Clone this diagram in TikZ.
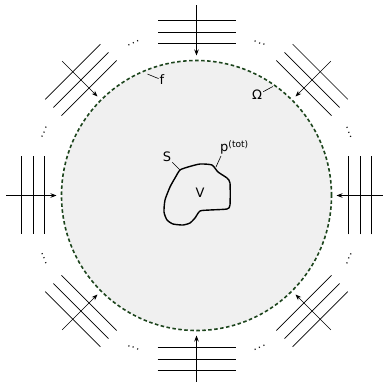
\documentclass[tikz,border=0pt]{standalone}
\usepackage{fontspec}
\setmainfont{DejaVu Sans}
\usepackage{xcolor}
\usetikzlibrary{arrows.meta}
\definecolor{rimgreen}{RGB}{28,68,28}

\begin{document}
\begin{tikzpicture}[
    x=1pt, y=1pt,
    region/.style={circle, inner sep=0pt, minimum size=270pt, fill=black!6,
                   draw=rimgreen, line width=1.6pt, dash pattern=on 3.5pt off 2.5pt},
    front/.style={line width=0.7pt, black},
    ray/.style={-{Stealth[length=6pt,width=4.5pt]}, line width=0.7pt},
    body/.style={line width=1.4pt, line join=round},
    % labels and their leader lines
    lbl/.style={font=\fontsize{13}{15}\selectfont, inner sep=1pt},
    lead/.style={line width=0.6pt},
    gap/.style={font=\fontsize{11}{12}\selectfont, inner sep=0pt},
]
    \useasboundingbox (-196.5,-186.5) rectangle (185.5,195.5);

    % scattering region
    \node[region] (omega) at (0,0) {};

    % incoming plane waves from 8 directions, dots in between
    \foreach \a in {0,45,...,315}{
        \coordinate (src-\a) at (\a:190);
        \coordinate (hit-\a) at (\a:140);
        \foreach \r in {152,163.5,175}
            \draw[front, rotate=\a] (\r,-39) -- (\r,39);
        \draw[ray] (src-\a) -- (hit-\a);
        \node[gap, rotate=\a-67.5] (dots-\a) at (\a+22.5:165) {.\kern1.2pt.\kern1.2pt.};
    }

    % scatterer
    \draw[body] plot[smooth cycle, tension=0.35] coordinates {
        (-16.5,25.5) (-8.5,28.5) (3.5,31.5) (15.5,30.5) (21.5,23.5)
        (30.5,17.5) (33.5,12.5) (33.5,-9.5) (30.5,-13.5) (13.5,-14.5)
        (3.5,-15.5) (-1.5,-22.5) (-6.5,-27.5) (-13.5,-29.5) (-23.5,-28.5)
        (-29.5,-24.5) (-32.5,-16.5) (-31.5,-4.5) (-26.5,8.5) (-21.5,17.5)};
    \coordinate (sfoot) at (-16.5,25.5);
    \coordinate (pfoot) at (19.5,28.5);
    \coordinate (ffoot) at (112:131);
    \coordinate (wfoot) at (55:133);

    \node[lbl] (vlbl) at (3.5,2.5) {V};
    \node[lbl] (slbl) at (-29.5,38.5) {S};
    \node[lbl, anchor=base west] (plbl) at (22.5,43.5) {p\textsuperscript{(tot)}};
    \node[lbl] (flbl) at (-34.5,115.5) {f};
    \node[lbl] (wlbl) at (60.5,100.5) {Ω};

    \draw[lead] (sfoot) -- (slbl);
    \draw[lead] (pfoot) -- ([xshift=2pt]plbl.south west);
    \draw[lead] (ffoot) -- (flbl);
    \draw[lead] (wfoot) -- (wlbl);
\end{tikzpicture}
\end{document}
